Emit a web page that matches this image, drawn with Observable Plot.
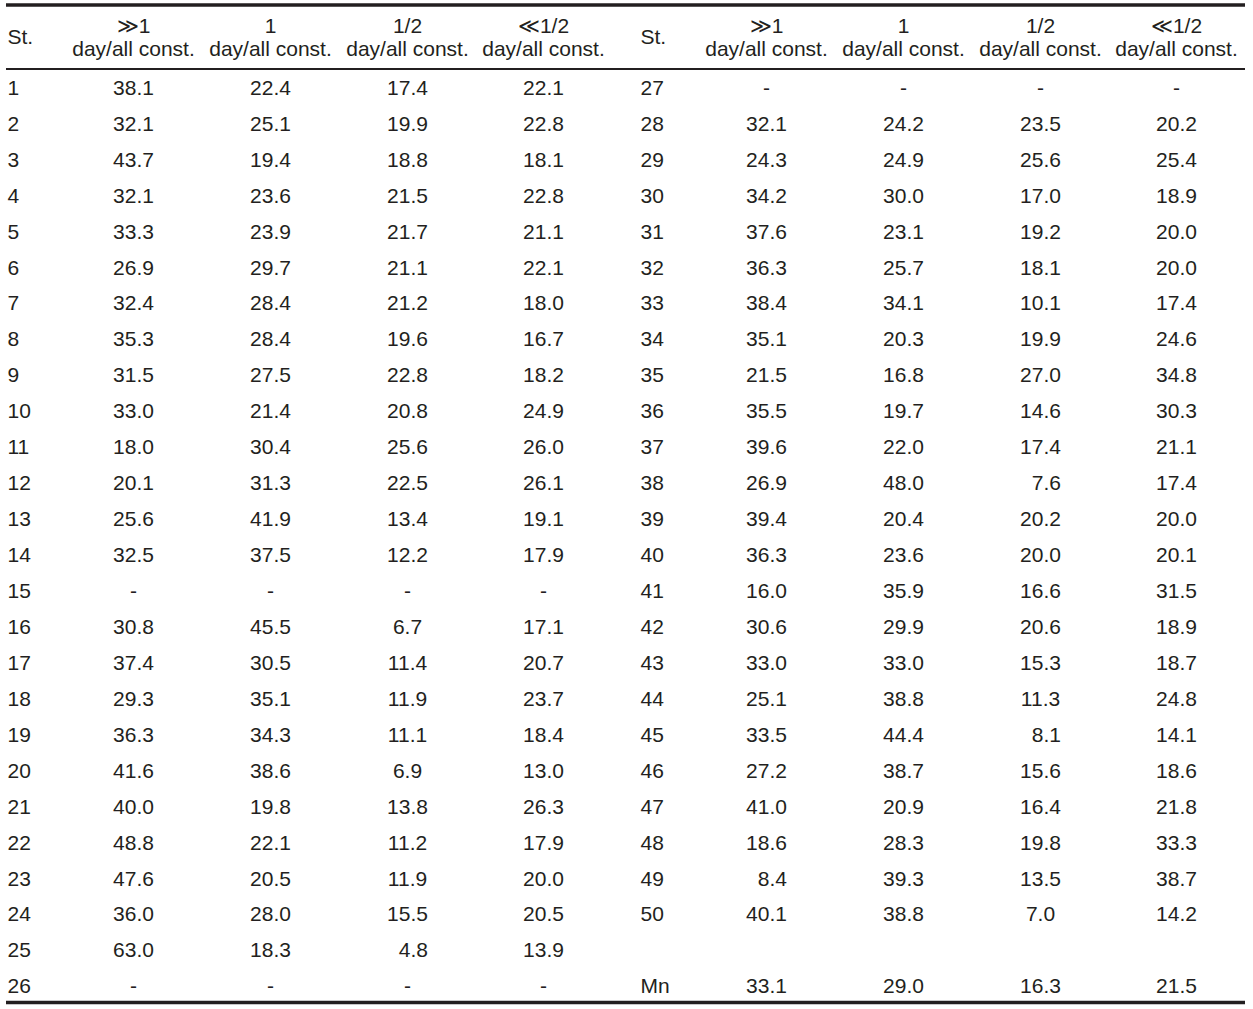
<!DOCTYPE html>
<html>
<head>
<meta charset="utf-8">
<script src="https://cdn.jsdelivr.net/npm/d3@7"></script>
<script src="https://cdn.jsdelivr.net/npm/@observablehq/plot@0.6"></script>
<style>
  html, body { margin: 0; padding: 0; background: #fff; }
  #chart svg { display: block; }
</style>
</head>
<body>
<div id="chart"></div>
<script>
// ---------------- DATA ----------------
const columnHeads = ["\u226B1", "1", "1/2", "\u226A1/2"];
const columnSub = "day/all const.";
const stationHead = "St.";

const stationsLeft = ["1","2","3","4","5","6","7","8","9","10","11","12","13","14","15","16","17","18","19","20","21","22","23","24","25","26"];
const gt1Left  = [38.1, 32.1, 43.7, 32.1, 33.3, 26.9, 32.4, 35.3, 31.5, 33.0, 18.0, 20.1, 25.6, 32.5, null, 30.8, 37.4, 29.3, 36.3, 41.6, 40.0, 48.8, 47.6, 36.0, 63.0, null];
const oneLeft  = [22.4, 25.1, 19.4, 23.6, 23.9, 29.7, 28.4, 28.4, 27.5, 21.4, 30.4, 31.3, 41.9, 37.5, null, 45.5, 30.5, 35.1, 34.3, 38.6, 19.8, 22.1, 20.5, 28.0, 18.3, null];
const halfLeft = [17.4, 19.9, 18.8, 21.5, 21.7, 21.1, 21.2, 19.6, 22.8, 20.8, 25.6, 22.5, 13.4, 12.2, null, 6.7, 11.4, 11.9, 11.1, 6.9, 13.8, 11.2, 11.9, 15.5, 4.8, null];
const lt12Left = [22.1, 22.8, 18.1, 22.8, 21.1, 22.1, 18.0, 16.7, 18.2, 24.9, 26.0, 26.1, 19.1, 17.9, null, 17.1, 20.7, 23.7, 18.4, 13.0, 26.3, 17.9, 20.0, 20.5, 13.9, null];

const stationsRight = ["27","28","29","30","31","32","33","34","35","36","37","38","39","40","41","42","43","44","45","46","47","48","49","50"];
const gt1Right  = [null, 32.1, 24.3, 34.2, 37.6, 36.3, 38.4, 35.1, 21.5, 35.5, 39.6, 26.9, 39.4, 36.3, 16.0, 30.6, 33.0, 25.1, 33.5, 27.2, 41.0, 18.6, 8.4, 40.1];
const oneRight  = [null, 24.2, 24.9, 30.0, 23.1, 25.7, 34.1, 20.3, 16.8, 19.7, 22.0, 48.0, 20.4, 23.6, 35.9, 29.9, 33.0, 38.8, 44.4, 38.7, 20.9, 28.3, 39.3, 38.8];
const halfRight = [null, 23.5, 25.6, 17.0, 19.2, 18.1, 10.1, 19.9, 27.0, 14.6, 17.4, 7.6, 20.2, 20.0, 16.6, 20.6, 15.3, 11.3, 8.1, 15.6, 16.4, 19.8, 13.5, 7.0];
const lt12Right = [null, 20.2, 25.4, 18.9, 20.0, 20.0, 17.4, 24.6, 34.8, 30.3, 21.1, 17.4, 20.0, 20.1, 31.5, 18.9, 18.7, 24.8, 14.1, 18.6, 21.8, 33.3, 38.7, 14.2];

const meanLabel = "Mn";
const meanValues = [33.1, 29.0, 16.3, 21.5];

// ---------------- LAYOUT (pixel positions, not data) ----------------
const W = 1253, H = 1009;
const FONT = 21;
const stX = [7, 640];                                   // station column (left anchored)
const valX = [[133, 270, 407, 543], [766, 903, 1040, 1176]]; // value column centres
const rowY0 = 87.6, rowStep = 35.94;                     // body row centres
const headY1 = 25.3, headY2 = 48.6, stHeadY = 37.0;
const ruleTop = 4.5, ruleMid = 68.5, ruleBottom = 1002;
const ruleX1 = 6, ruleX2 = 1245;
// cells that the source typesets flush right within their column
const flushRight = new Set(["0-24-2", "1-11-2", "1-18-2", "1-22-0"]);

// ---------------- BUILD CELLS ----------------
const fmt = v => v == null ? "-" : v.toFixed(1);
const cells = [];
const stCells = [];
const halves = [
  {st: stationsLeft, cols: [gt1Left, oneLeft, halfLeft, lt12Left]},
  {st: stationsRight, cols: [gt1Right, oneRight, halfRight, lt12Right]}
];
halves.forEach((h, hi) => {
  h.st.forEach((s, ri) => {
    stCells.push({x: stX[hi], y: rowY0 + ri * rowStep, label: s});
    h.cols.forEach((col, ci) => {
      let t = fmt(col[ri]);
      if (flushRight.has(`${hi}-${ri}-${ci}`)) t = "\u2007" + t;
      cells.push({x: valX[hi][ci], y: rowY0 + ri * rowStep, label: t});
    });
  });
});
// mean row (right half, last row)
const meanRow = 25;
stCells.push({x: stX[1], y: rowY0 + meanRow * rowStep, label: meanLabel});
meanValues.forEach((v, ci) => cells.push({x: valX[1][ci], y: rowY0 + meanRow * rowStep, label: fmt(v)}));

// header cells
const headCells = [];
const stHeads = [];
[0, 1].forEach(hi => {
  stHeads.push({x: stX[hi], y: stHeadY, label: stationHead});
  columnHeads.forEach((c, ci) => {
    headCells.push({x: valX[hi][ci], y: headY1, label: c});
    headCells.push({x: valX[hi][ci], y: headY2, label: columnSub});
  });
});

const ink = "#231f20";
const chart = Plot.plot({
  width: W,
  height: H,
  marginTop: 0, marginRight: 0, marginBottom: 0, marginLeft: 0,
  x: {type: "linear", domain: [0, W], range: [0, W], axis: null},
  y: {type: "linear", domain: [0, H], range: [0, H], axis: null},
  style: {fontFamily: "'Liberation Sans', Arial, sans-serif", background: "#fff"},
  marks: [
    Plot.ruleY([ruleTop], {x1: ruleX1, x2: ruleX2, stroke: ink, strokeWidth: 3.5}),
    Plot.ruleY([ruleMid], {x1: ruleX1, x2: ruleX2, stroke: ink, strokeWidth: 2}),
    Plot.ruleY([ruleBottom], {x1: ruleX1, x2: ruleX2, stroke: ink, strokeWidth: 3.5}),
    Plot.text(stHeads, {x: "x", y: "y", text: "label", textAnchor: "start", fontSize: FONT, fill: ink}),
    Plot.text(headCells, {x: "x", y: "y", text: "label", textAnchor: "middle", fontSize: FONT, fill: ink}),
    Plot.text(stCells, {x: "x", y: "y", text: "label", textAnchor: "start", fontSize: FONT, fill: ink}),
    Plot.text(cells, {x: "x", y: "y", text: "label", textAnchor: "middle", fontSize: FONT, fill: ink})
  ]
});
document.getElementById("chart").appendChild(chart);
</script>
</body>
</html>
